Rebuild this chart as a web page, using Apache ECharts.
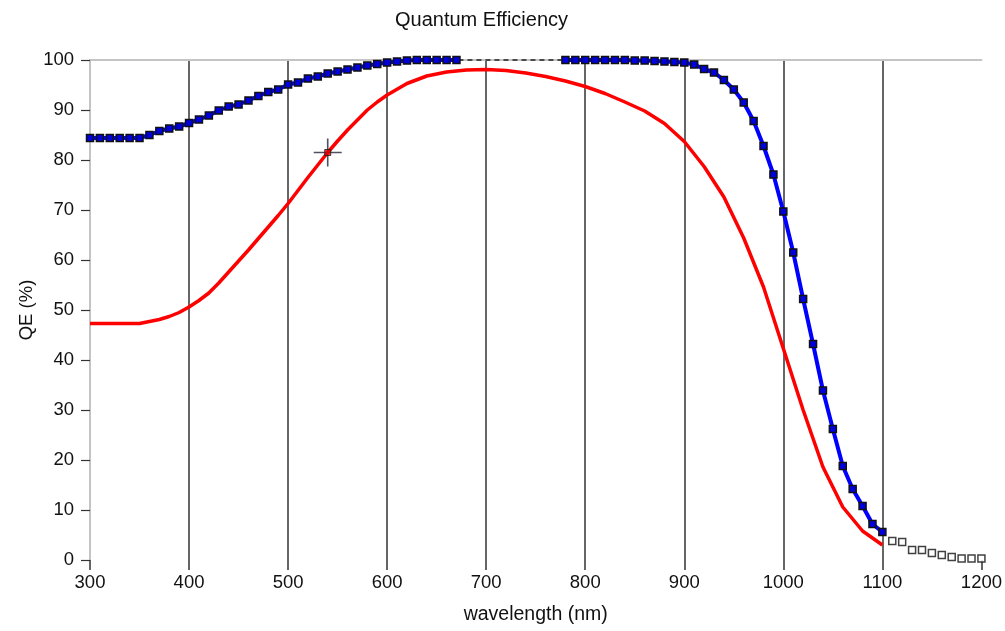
<!DOCTYPE html>
<html>
<head>
<meta charset="utf-8">
<script src="https://cdn.jsdelivr.net/npm/echarts@6/dist/echarts.min.js"></script>
<style>
html,body{margin:0;padding:0;background:#fff;}
#chart{width:1005px;height:631px;}
</style>
</head>
<body>
<div id="chart"></div>
<script>
// Wavelengths (nm) for the blue (max) QE curve with square markers
const blueWl = [300,310,320,330,340,350,360,370,380,390,400,410,420,430,440,450,460,470,480,490,500,510,520,530,540,550,560,570,580,590,600,610,620,630,640,650,660,670,680,690,700,710,720,730,740,750,760,770,780,790,800,810,820,830,840,850,860,870,880,890,900,910,920,930,940,950,960,970,980,990,1000,1010,1020,1030,1040,1050,1060,1070,1080,1090,1100];
const blueQE = [84.4,84.4,84.4,84.4,84.4,84.4,85.0,85.8,86.3,86.7,87.4,88.1,88.9,89.9,90.7,91.1,91.9,92.8,93.6,94.1,95.1,95.5,96.3,96.7,97.3,97.7,98.1,98.5,98.9,99.2,99.5,99.7,99.9,100,100,100,100,100,null,null,null,null,null,null,null,null,null,null,100,100,100,100,100,100,100,99.9,99.9,99.8,99.7,99.6,99.5,99.1,98.2,97.5,96.0,94.1,91.5,87.8,82.8,77.1,69.7,61.5,52.2,43.2,33.9,26.2,18.8,14.2,10.8,7.2,5.6];

// Red (typical) QE curve
const redWl = [300,350,360,370,380,390,400,410,420,430,440,450,460,470,480,490,500,510,520,530,540,550,560,570,580,590,600,620,640,660,680,700,720,740,760,780,800,820,840,860,880,900,920,940,960,980,1000,1020,1040,1060,1080,1100];
const redQE = [47.3,47.3,47.7,48.1,48.7,49.5,50.6,51.9,53.4,55.4,57.6,59.8,62.0,64.3,66.6,68.9,71.3,73.9,76.5,79.0,81.5,83.8,86.0,88.0,90.0,91.6,93.0,95.3,96.8,97.6,98.0,98.1,97.9,97.4,96.7,95.8,94.7,93.3,91.6,89.8,87.3,83.7,78.7,72.6,64.4,54.6,42.3,30.0,18.6,10.6,5.8,3.0];

// Open-square extension beyond 1100 nm
const extWl = [1110,1120,1130,1140,1150,1160,1170,1180,1190,1200];
const extQE = [3.8,3.6,2.0,2.0,1.4,1.0,0.6,0.3,0.3,0.3];

// Dashed segment at the top (where the blue curve reaches 100%)
const dashWl = [672,776];
const dashQE = [100,100];

// Cursor marker
const cursorWl = [540];
const cursorQE = [81.5];

const xTicks = {min:300, max:1200, interval:100};
const yTicks = {min:0, max:100, interval:10};

const zip = (a,b) => a.map((v,i)=>[v,b[i]]);
const FONT = 'Liberation Sans, Arial, sans-serif';

const chart = echarts.init(document.getElementById('chart'), null, {renderer:'canvas'});
chart.setOption({
  animation:false,
  backgroundColor:'#fff',
  title:{
    text:'Quantum Efficiency',
    left:390, top:5,
    textStyle:{fontFamily:FONT, fontSize:20, fontWeight:'normal', color:'#111'}
  },
  grid:{left:90, right:22, top:60, bottom:71, containLabel:false},
  xAxis:[{
    type:'value', min:xTicks.min, max:xTicks.max, interval:xTicks.interval,
    name:'wavelength (nm)', nameLocation:'middle', nameGap:45,
    nameTextStyle:{fontFamily:FONT, fontSize:19.5, color:'#111'},
    axisLine:{show:false},
    axisTick:{show:true, length:10, lineStyle:{color:'#333', width:1.5}},
    axisLabel:{fontFamily:FONT, fontSize:18.5, color:'#111', margin:13, formatter:v=>String(v)},
    splitLine:{show:true, showMinLine:false, showMaxLine:false, lineStyle:{color:'#333', width:1.5}}
  },{
    type:'value', position:'top', min:xTicks.min, max:xTicks.max, interval:xTicks.interval,
    axisLine:{show:true, onZero:false, lineStyle:{color:'#c4c4c4', width:2}},
    axisTick:{show:false}, axisLabel:{show:false}, splitLine:{show:false}
  }],
  yAxis:{
    type:'value', min:yTicks.min, max:yTicks.max, interval:yTicks.interval,
    name:'QE (%)', nameLocation:'middle', nameGap:54, nameRotate:90, nameMoveOverlap:false,
    nameTextStyle:{fontFamily:FONT, fontSize:18.5, color:'#111'},
    axisLine:{show:true, lineStyle:{color:'#c4c4c4', width:2}},
    axisTick:{show:true, length:9, lineStyle:{color:'#333', width:1.2}},
    axisLabel:{fontFamily:FONT, fontSize:18.5, color:'#111', margin:16, formatter:v=>String(v)},
    splitLine:{show:false}
  },
  series:[
    {
      type:'line', name:'typical', data:zip(redWl, redQE), showSymbol:false, symbol:'none',
      lineStyle:{color:'#ff0000', width:3.5}, itemStyle:{color:'#ff0000'}, z:3, clip:false
    },
    {
      type:'line', name:'dash', data:zip(dashWl, dashQE), symbol:'none',
      lineStyle:{color:'#222', width:1.5, type:[5,4]}, z:4, clip:false
    },
    {
      type:'line', name:'max', data:zip(blueWl, blueQE), connectNulls:false,
      symbol:'rect', symbolSize:7, showAllSymbol:true, clip:false,
      lineStyle:{color:'#0000ff', width:4},
      itemStyle:{color:'#0000dd', borderColor:'#111', borderWidth:1.5}, z:5
    },
    {
      type:'scatter', name:'ext', data:zip(extWl, extQE), symbol:'rect', symbolSize:7,
      itemStyle:{color:'#fff', borderColor:'#111', borderWidth:1.5}, z:5
    },
    {
      type:'scatter', name:'cursor', data:zip(cursorWl, cursorQE),
      symbol:'path://M0,13.2 H28 V14.8 H0 Z M13.2,0 H14.8 V28 H13.2 Z', symbolSize:[28,28],
      itemStyle:{color:'#23233f'}, z:6, silent:true
    },
    {
      type:'scatter', name:'cursorDot', data:zip(cursorWl, cursorQE),
      symbol:'rect', symbolSize:6,
      itemStyle:{color:'#ee0000', borderColor:'#222', borderWidth:1}, z:7, silent:true
    }
  ]
});
</script>
</body>
</html>
